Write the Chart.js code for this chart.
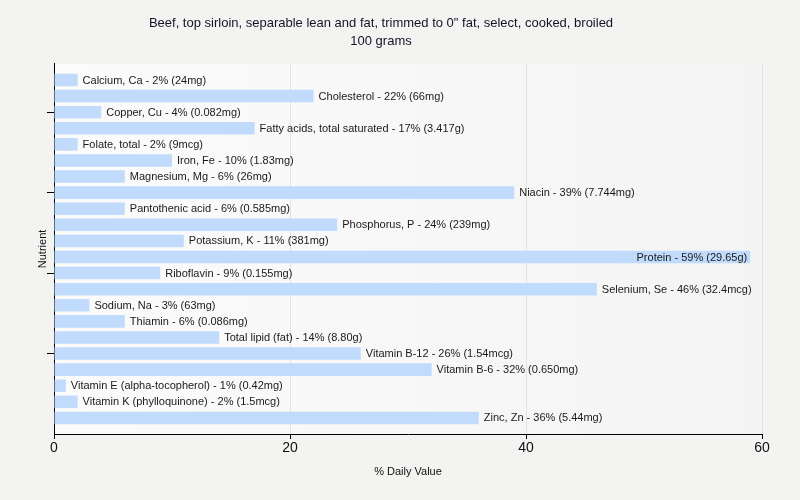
<!DOCTYPE html>
<html>
<head>
<meta charset="utf-8">
<script src="https://cdn.jsdelivr.net/npm/chart.js"></script>
<style>
  html, body { margin: 0; padding: 0; background: #f3f3f2; }
  #wrap { width: 800px; height: 500px; }
</style>
</head>
<body>
<div id="wrap"><canvas id="chart" width="800" height="500"></canvas></div>
<script>
const nutrients = [
  "Calcium, Ca", "Cholesterol", "Copper, Cu", "Fatty acids, total saturated",
  "Folate, total", "Iron, Fe", "Magnesium, Mg", "Niacin", "Pantothenic acid",
  "Phosphorus, P", "Potassium, K", "Protein", "Riboflavin", "Selenium, Se",
  "Sodium, Na", "Thiamin", "Total lipid (fat)", "Vitamin B-12", "Vitamin B-6",
  "Vitamin E (alpha-tocopherol)", "Vitamin K (phylloquinone)", "Zinc, Zn"
];
const dailyValue = [2, 22, 4, 17, 2, 10, 6, 39, 6, 24, 11, 59, 9, 46, 3, 6, 14, 26, 32, 1, 2, 36];
const amounts = [
  "24mg", "66mg", "0.082mg", "3.417g", "9mcg", "1.83mg", "26mg", "7.744mg", "0.585mg",
  "239mg", "381mg", "29.65g", "0.155mg", "32.4mcg", "63mg", "0.086mg", "8.80g",
  "1.54mcg", "0.650mg", "0.42mg", "1.5mcg", "5.44mg"
];
const xTicks = [0, 20, 40, 60];
const yTickMarks = [2, 7, 12, 17];

const plotBg = {
  id: "plotBg",
  beforeDraw(chart) {
    const { ctx, chartArea: a } = chart;
    const g = ctx.createLinearGradient(a.left, 0, a.right, 0);
    g.addColorStop(0, "#fbfbfb");
    g.addColorStop(1, "#f4f4f4");
    ctx.save();
    ctx.fillStyle = g;
    ctx.fillRect(a.left, a.top, a.right - a.left, a.bottom - a.top);
    ctx.restore();
  }
};

const barLabels = {
  id: "barLabels",
  afterDatasetsDraw(chart) {
    const { ctx, chartArea } = chart;
    const meta = chart.getDatasetMeta(0);
    ctx.save();
    ctx.font = "11px 'Liberation Sans', Arial, sans-serif";
    ctx.fillStyle = "#1a1a1a";
    ctx.textBaseline = "middle";
    meta.data.forEach((bar, i) => {
      const text = nutrients[i] + " - " + dailyValue[i] + "% (" + amounts[i] + ")";
      const w = ctx.measureText(text).width;
      if (bar.x + 5 + w > chartArea.right) {
        ctx.textAlign = "right";
        ctx.fillText(text, bar.x - 3, bar.y + 0.5);
      } else {
        ctx.textAlign = "left";
        ctx.fillText(text, bar.x + 5, bar.y + 0.5);
      }
    });
    ctx.restore();
  }
};

Chart.defaults.font.family = "'Liberation Sans', Arial, sans-serif";
Chart.defaults.color = "#111";

new Chart(document.getElementById("chart"), {
  type: "bar",
  data: {
    datasets: [{
      data: dailyValue.map((v, i) => ({ x: v, y: i })),
      backgroundColor: "#c0dbfc",
      borderWidth: 0,
      barPercentage: 0.78,
      categoryPercentage: 1
    }]
  },
  options: {
    indexAxis: "y",
    responsive: false,
    animation: false,
    events: [],
    layout: { padding: { left: 0, right: 38, top: 0, bottom: 0 } },
    plugins: {
      legend: { display: false },
      tooltip: { enabled: false },
      title: {
        display: true,
        text: ["Beef, top sirloin, separable lean and fat, trimmed to 0\" fat, select, cooked, broiled", "100 grams"],
        font: { size: 13, weight: "normal", lineHeight: 1.4 },
        color: "#141428",
        padding: { top: 14.5, bottom: 13 }
      }
    },
    scales: {
      x: {
        type: "linear",
        position: "bottom",
        min: 0,
        max: 60,
        afterBuildTicks(scale) { scale.ticks = xTicks.map(v => ({ value: v })); },
        afterFit(scale) { scale.height = 66; },
        ticks: { font: { size: 14 }, color: "#111", padding: 1 },
        grid: { color: "#e2e2e2", tickColor: "#000", tickLength: 5, drawOnChartArea: true },
        border: { display: true, color: "#000", width: 1 },
        title: { display: true, text: "% Daily Value", font: { size: 11 }, color: "#111", padding: { top: 0, bottom: 21 } }
      },
      y: {
        type: "linear",
        min: -1,
        max: 22,
        reverse: true,
        offset: false,
        afterBuildTicks(scale) { scale.ticks = yTickMarks.map(v => ({ value: v })); },
        afterFit(scale) { scale.width = 54; },
        ticks: { display: false },
        grid: { drawOnChartArea: false, color: "#000", tickLength: 7, offset: false },
        border: { display: true, color: "#000", width: 1 },
        title: { display: true, text: "Nutrient", font: { size: 11 }, color: "#111", padding: { top: 36, bottom: 0 } }
      }
    }
  },
  plugins: [plotBg, barLabels]
});
</script>
</body>
</html>
